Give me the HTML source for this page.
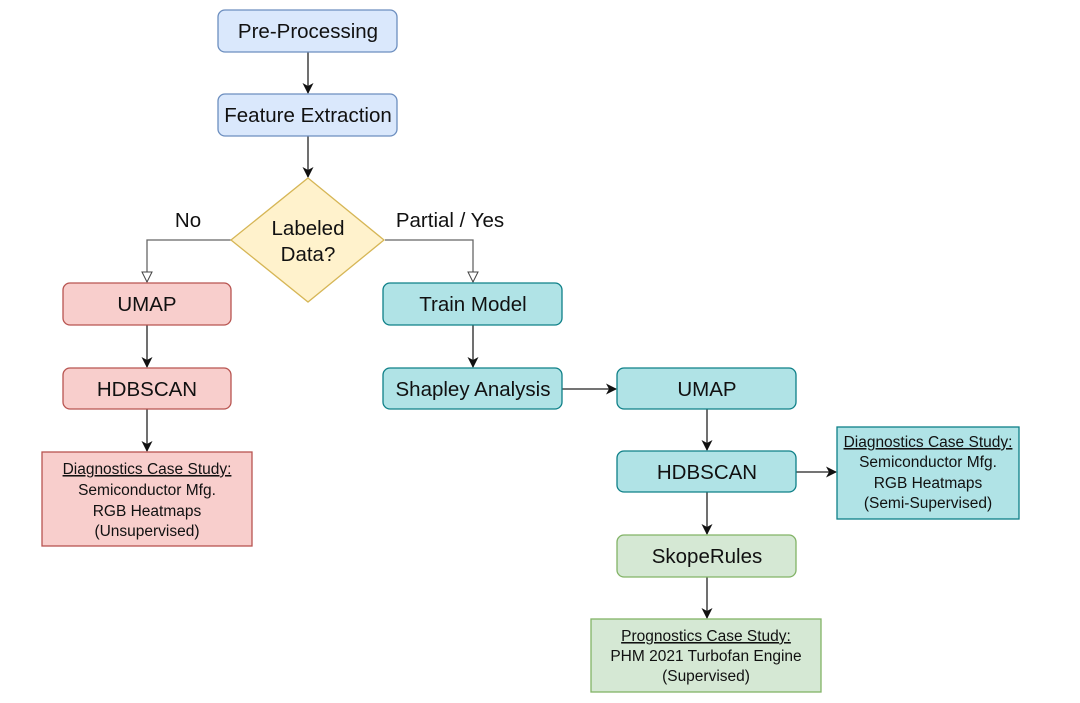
<!DOCTYPE html>
<html><head><style>
body{margin:0;background:#fff;}
svg text{font-family:"Liberation Sans",sans-serif;fill:#111;}
</style></head><body>
<svg width="1080" height="698" viewBox="0 0 1080 698" xmlns="http://www.w3.org/2000/svg">
<defs>
<marker id="a" markerWidth="11" markerHeight="11" refX="10" refY="5.5" orient="auto" markerUnits="userSpaceOnUse"><path d="M0,0 L11,5.5 L0,11 L3,5.5 Z" fill="#111"/></marker>
<marker id="o" markerWidth="12" markerHeight="12" refX="11" refY="6" orient="auto" markerUnits="userSpaceOnUse"><path d="M1,1 L11,6 L1,11 Z" fill="#fff" stroke="#444" stroke-width="1"/></marker>
</defs>
<g stroke="#222" stroke-width="1.3" fill="none">
<line x1="308" y1="52" x2="308" y2="93" marker-end="url(#a)"/>
<line x1="308" y1="136" x2="308" y2="177" marker-end="url(#a)"/>
<polyline points="231,240 147,240 147,282" stroke="#666" marker-end="url(#o)"/>
<polyline points="385,240 473,240 473,282" stroke="#666" marker-end="url(#o)"/>
<line x1="147" y1="325" x2="147" y2="367" marker-end="url(#a)"/>
<line x1="147" y1="409" x2="147" y2="451" marker-end="url(#a)"/>
<line x1="473" y1="325" x2="473" y2="367" marker-end="url(#a)"/>
<line x1="562" y1="389" x2="616" y2="389" marker-end="url(#a)"/>
<line x1="707" y1="409" x2="707" y2="450" marker-end="url(#a)"/>
<line x1="796" y1="472" x2="836" y2="472" marker-end="url(#a)"/>
<line x1="707" y1="492" x2="707" y2="534" marker-end="url(#a)"/>
<line x1="707" y1="577" x2="707" y2="618" marker-end="url(#a)"/>
</g>
<rect x="218" y="10" width="179" height="42" rx="7" fill="#dae8fc" stroke="#6c8ebf" stroke-width="1.3"/>
<rect x="218" y="94" width="179" height="42" rx="7" fill="#dae8fc" stroke="#6c8ebf" stroke-width="1.3"/>
<polygon points="308,178 384,240 308,302 231,240" fill="#fff2cc" stroke="#d6b656" stroke-width="1.3"/>
<rect x="63" y="283" width="168" height="42" rx="7" fill="#f8cecc" stroke="#b85450" stroke-width="1.3"/>
<rect x="63" y="368" width="168" height="41" rx="7" fill="#f8cecc" stroke="#b85450" stroke-width="1.3"/>
<rect x="42" y="452" width="210" height="94" fill="#f8cecc" stroke="#b85450" stroke-width="1.3"/>
<rect x="383" y="283" width="179" height="42" rx="7" fill="#b0e3e6" stroke="#0e8088" stroke-width="1.3"/>
<rect x="383" y="368" width="179" height="41" rx="7" fill="#b0e3e6" stroke="#0e8088" stroke-width="1.3"/>
<rect x="617" y="368" width="179" height="41" rx="7" fill="#b0e3e6" stroke="#0e8088" stroke-width="1.3"/>
<rect x="617" y="451" width="179" height="41" rx="7" fill="#b0e3e6" stroke="#0e8088" stroke-width="1.3"/>
<rect x="837" y="427" width="182" height="92" fill="#b0e3e6" stroke="#0e8088" stroke-width="1.3"/>
<rect x="617" y="535" width="179" height="42" rx="7" fill="#d5e8d4" stroke="#82b366" stroke-width="1.3"/>
<rect x="591" y="619" width="230" height="73" fill="#d5e8d4" stroke="#82b366" stroke-width="1.3"/>
<g font-size="20.5" text-anchor="middle">
<text x="308" y="38">Pre-Processing</text>
<text x="308" y="122">Feature Extraction</text>
<text x="308" y="235">Labeled</text>
<text x="308" y="261">Data?</text>
<text x="188" y="227">No</text>
<text x="450" y="227">Partial / Yes</text>
<text x="147" y="311">UMAP</text>
<text x="147" y="396">HDBSCAN</text>
<text x="473" y="311">Train Model</text>
<text x="473" y="396">Shapley Analysis</text>
<text x="707" y="396">UMAP</text>
<text x="707" y="479">HDBSCAN</text>
<text x="707" y="563">SkopeRules</text>
</g>
<g font-size="15.5" text-anchor="middle">
<text x="147" y="474" text-decoration="underline">Diagnostics Case Study:</text>
<text x="147" y="495">Semiconductor Mfg.</text>
<text x="147" y="516">RGB Heatmaps</text>
<text x="147" y="536">(Unsupervised)</text>
<text x="928" y="447" text-decoration="underline">Diagnostics Case Study:</text>
<text x="928" y="467">Semiconductor Mfg.</text>
<text x="928" y="488">RGB Heatmaps</text>
<text x="928" y="508">(Semi-Supervised)</text>
<text x="706" y="641" text-decoration="underline">Prognostics Case Study:</text>
<text x="706" y="661">PHM 2021 Turbofan Engine</text>
<text x="706" y="681">(Supervised)</text>
</g>
</svg>
</body></html>
